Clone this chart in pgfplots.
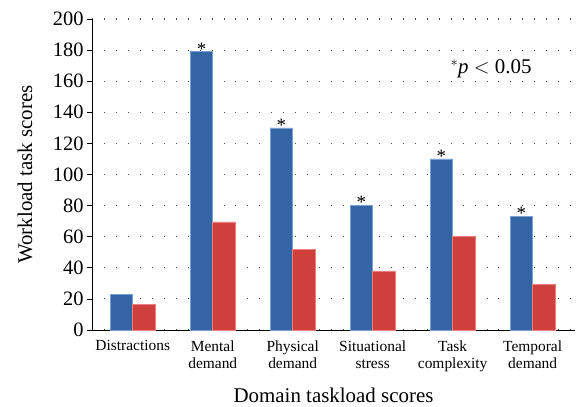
\documentclass[border=0pt]{standalone}
\usepackage{fontspec}
\setmainfont{Liberation Serif}
\usepackage{pgfplots}
\pgfplotsset{compat=1.18}
\definecolor{barblue}{RGB}{52,100,164}
\definecolor{barred}{RGB}{207,64,60}
\definecolor{barblueL}{RGB}{120,160,215}
\definecolor{barredL}{RGB}{235,130,125}
\begin{document}
\begin{tikzpicture}
\begin{axis}[
  name=ax,
  scale only axis,
  width=483bp, height=311bp,
  ybar=0pt, bar width=22.5bp,
  xmin=-0.51, xmax=5.53,
  ymin=0, ymax=200,
  ytick={0,20,40,60,80,100,120,140,160,180,200},
  yticklabels={0,20,40,60,80,100,120,140,160,180,200},
  xtick={0,1,2,3,4,5},
  xticklabels={Distractions,{Mental\\demand},{Physical\\demand},{Situational\\stress},{Task\\complexity},{Temporal\\demand}},
  xticklabel style={align=center, font=\fontsize{15.5}{17.5}\selectfont, text depth=0pt, yshift=-2bp},
  yticklabel style={font=\fontsize{20.5}{22}\selectfont},
  axis lines*=left,
  axis line style={black, line width=1pt},
  tick align=outside,
  xtick style={draw=none},
  ytick style={black, line width=0.8pt},
  major tick length=5bp,
  ymajorgrids,
  major grid style={black!70, line width=1.1pt, dash pattern=on 0.9pt off 11.1pt},
  xlabel={Domain taskload scores},
  ylabel={Workload task scores},
  xlabel style={font=\fontsize{21}{23}\selectfont, at={(axis description cs:0.5,0)}, anchor=center, yshift=-65bp},
  ylabel style={font=\fontsize{21}{23}\selectfont, at={(axis description cs:0,0.5)}, anchor=center, rotate=0, xshift=0bp, yshift=67bp},
  clip=false,
]
\addplot+[fill=barblue, draw=barblueL, line width=0.6pt,
  nodes near coords, point meta=explicit symbolic,
  every node near coord/.append style={font=\fontsize{19}{19}\selectfont, black, yshift=-7bp}]
  coordinates {(0,23) [] (1,179) [*] (2,130) [*] (3,80) [*] (4,110) [*] (5,73) [*]};
\addplot+[fill=barred, draw=barredL, line width=0.6pt]
  coordinates {(0,16.5) (1,69.5) (2,52) (3,38) (4,60) (5,29.5)};
\node[font=\fontsize{21}{23}\selectfont, anchor=center] at (axis cs:4.48,168) {$^{*}$\textit{p} $<$ 0.05};
\end{axis}
\pgfresetboundingbox
\useasboundingbox ([shift={(-92bp,-77bp)}]ax.south west) rectangle ([shift={(6bp,19bp)}]ax.north east);
\end{tikzpicture}
\end{document}
